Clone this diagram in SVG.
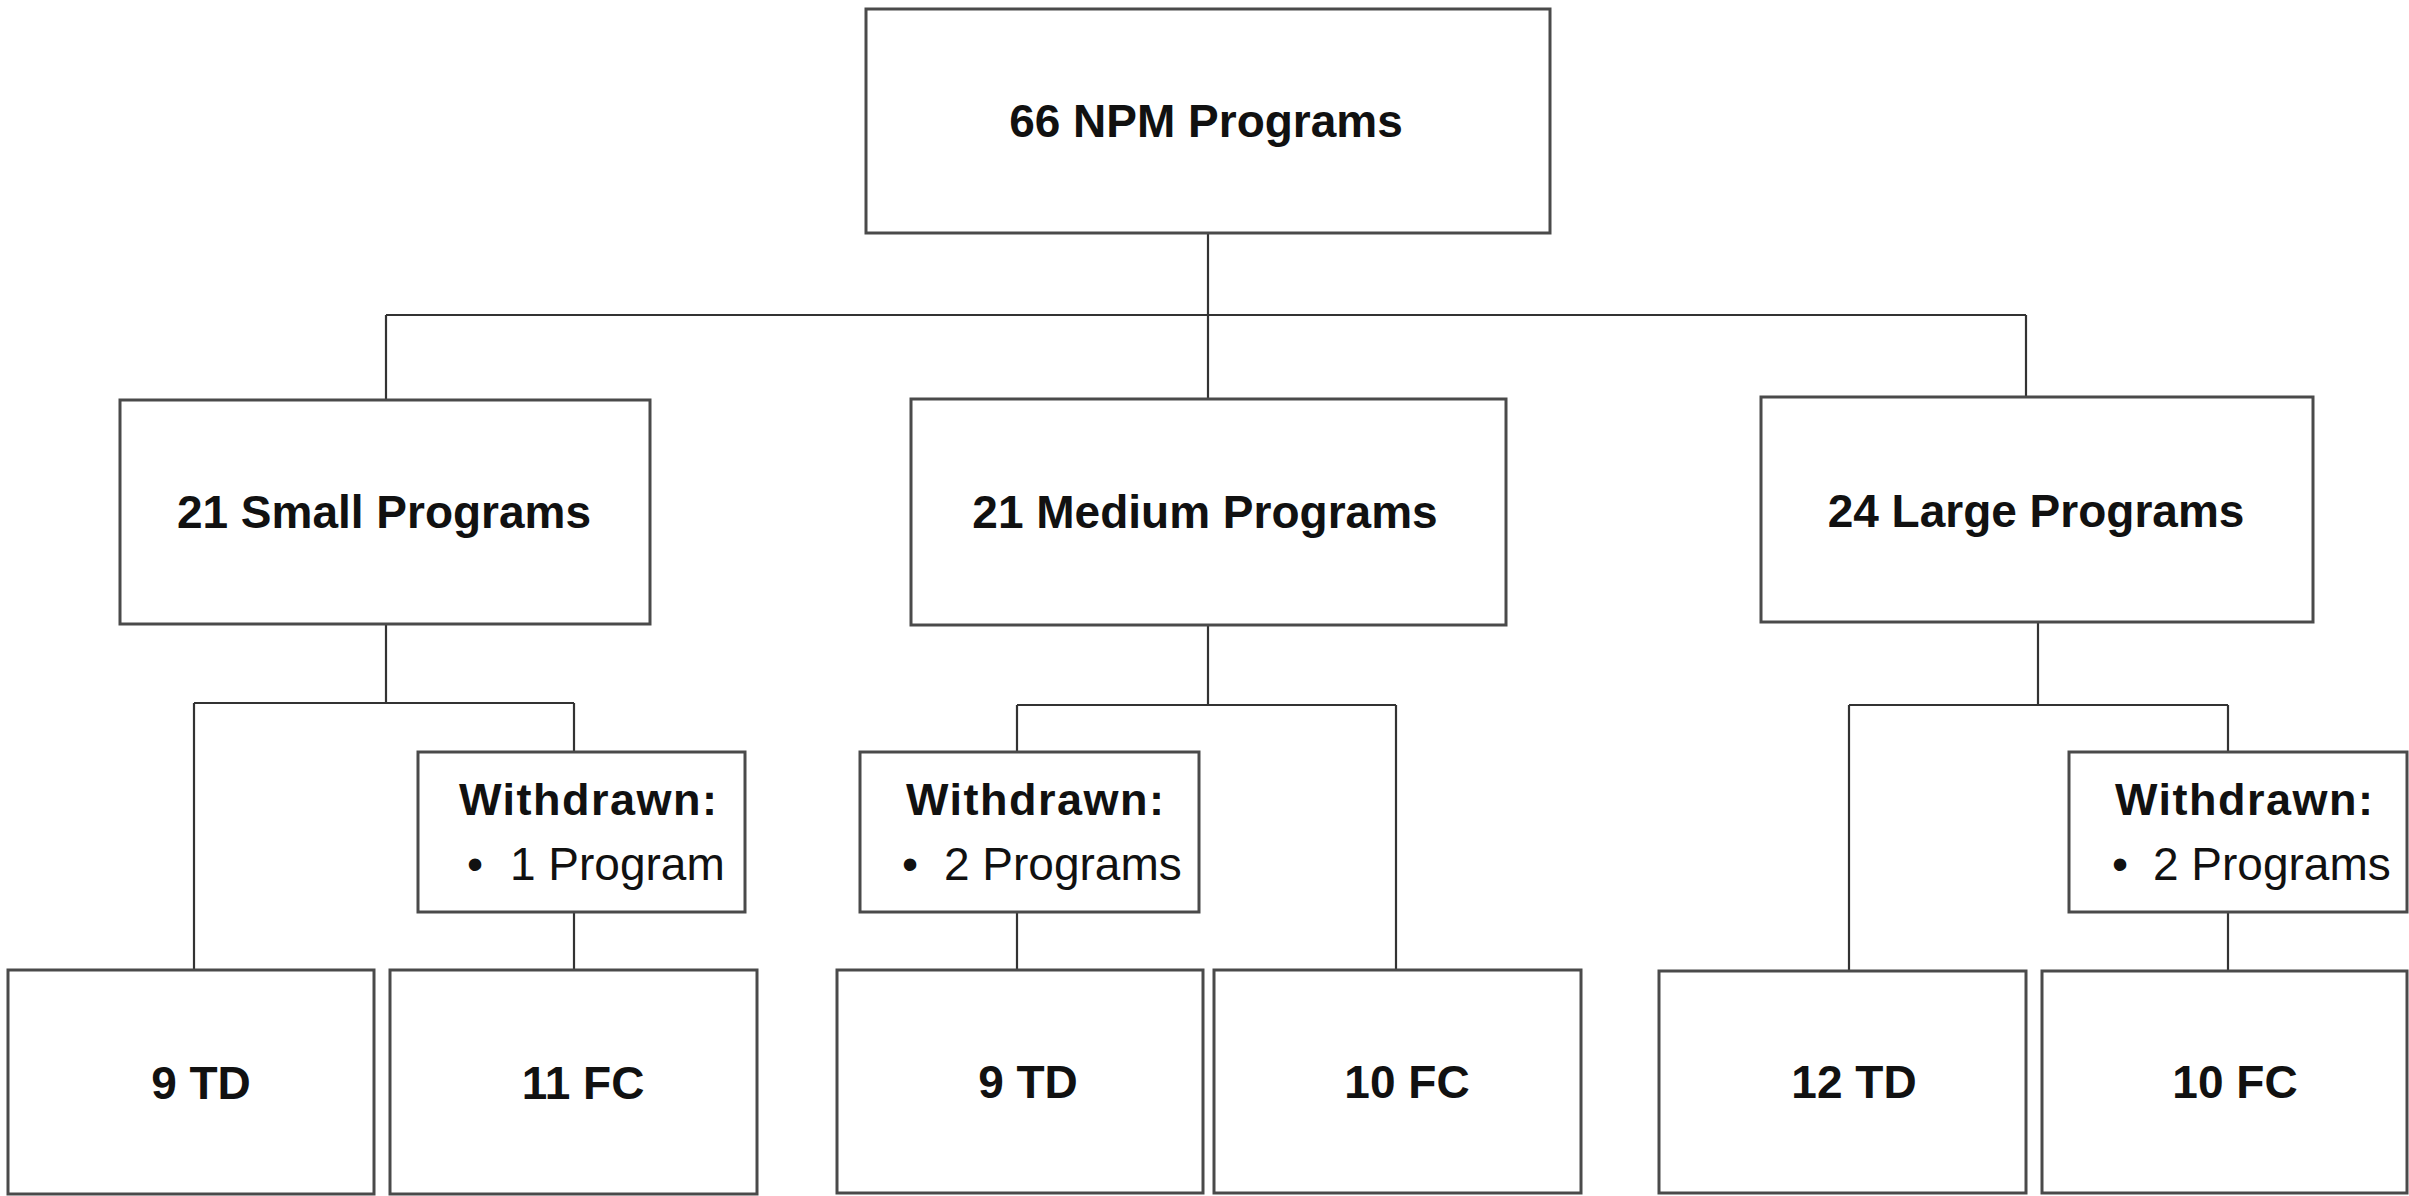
<svg xmlns="http://www.w3.org/2000/svg" width="2409" height="1196" viewBox="0 0 2409 1196">
<style>
.box{fill:#ffffff;stroke:#4a4a4a;stroke-width:3}
.lbl{font-family:"Liberation Sans",Arial,sans-serif;font-weight:bold;font-size:46px;fill:#111;text-anchor:middle}
.wd{font-family:"Liberation Sans",Arial,sans-serif;font-weight:bold;font-size:45px;fill:#111;letter-spacing:1.5px}
.bl{font-family:"Liberation Sans",Arial,sans-serif;font-size:46px;fill:#111}
.con{stroke:#333;stroke-width:2.2;fill:none}
</style>
<rect width="2409" height="1196" fill="#ffffff"/>
<g id="connectors">
<path class="con" d="M1208 233V315M386 315H2026M386 315V400M1208 315V399M2026 315V397"/>
<path class="con" d="M386 624V703M194 703H574M194 703V970M574 703V752M574 912V970"/>
<path class="con" d="M1208 625V705M1017 705H1396M1017 705V752M1017 912V970M1396 705V971"/>
<path class="con" d="M2038 622V705M1849 705H2228M1849 705V971M2228 705V752M2228 912V971"/>
</g>
<g id="n-total"><rect class="box" x="866" y="9" width="684" height="224"/><text class="lbl" x="1206" y="137">66 NPM Programs</text></g>
<g id="n-small"><rect class="box" x="120" y="400" width="530" height="224"/><text class="lbl" x="384" y="528">21 Small Programs</text></g>
<g id="n-medium"><rect class="box" x="911" y="399" width="595" height="226"/><text class="lbl" x="1205" y="528">21 Medium Programs</text></g>
<g id="n-large"><rect class="box" x="1761" y="397" width="552" height="225"/><text class="lbl" x="2036" y="527">24 Large Programs</text></g>
<g id="n-small-wd"><rect class="box" x="418" y="752" width="327" height="160"/><text class="wd" x="459" y="815">Withdrawn:</text><text class="bl" y="880"><tspan x="467">•</tspan><tspan x="510">1 Program</tspan></text></g>
<g id="n-medium-wd"><rect class="box" x="860" y="752" width="339" height="160"/><text class="wd" x="906" y="815">Withdrawn:</text><text class="bl" y="880"><tspan x="902">•</tspan><tspan x="944">2 Programs</tspan></text></g>
<g id="n-large-wd"><rect class="box" x="2069" y="752" width="338" height="160"/><text class="wd" x="2115" y="815">Withdrawn:</text><text class="bl" y="880"><tspan x="2112">•</tspan><tspan x="2153">2 Programs</tspan></text></g>
<g id="n-small-td"><rect class="box" x="8" y="970" width="366" height="224"/><text class="lbl" x="201" y="1099">9 TD</text></g>
<g id="n-small-fc"><rect class="box" x="390" y="970" width="367" height="224"/><text class="lbl" x="583" y="1099">11 FC</text></g>
<g id="n-medium-td"><rect class="box" x="837" y="970" width="366" height="223"/><text class="lbl" x="1028" y="1098">9 TD</text></g>
<g id="n-medium-fc"><rect class="box" x="1214" y="970" width="367" height="223"/><text class="lbl" x="1407" y="1098">10 FC</text></g>
<g id="n-large-td"><rect class="box" x="1659" y="971" width="367" height="222"/><text class="lbl" x="1854" y="1098">12 TD</text></g>
<g id="n-large-fc"><rect class="box" x="2042" y="971" width="365" height="222"/><text class="lbl" x="2235" y="1098">10 FC</text></g>
</svg>
